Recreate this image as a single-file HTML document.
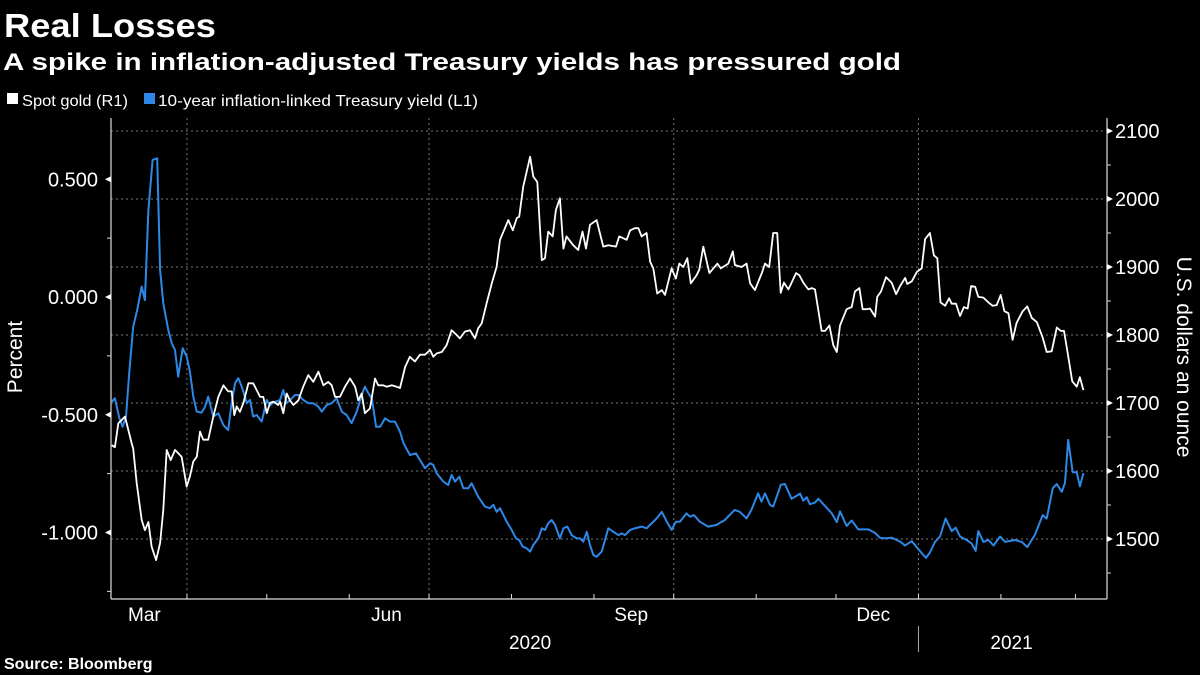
<!DOCTYPE html>
<html><head><meta charset="utf-8"><style>
html,body{margin:0;padding:0;background:#000;}
svg{display:block;font-family:"Liberation Sans",sans-serif;}
</style></head><body>
<svg id="chart" width="1200" height="675" viewBox="0 0 1200 675">
<rect width="1200" height="675" fill="#000"/>
<text x="4" y="37" fill="#fff" font-size="33" font-weight="bold" textLength="212" lengthAdjust="spacingAndGlyphs">Real Losses</text>
<text x="3" y="70" fill="#fff" font-size="24" font-weight="bold" textLength="898" lengthAdjust="spacingAndGlyphs">A spike in inflation-adjusted Treasury yields has pressured gold</text>
<g>
<g>
<rect x="7" y="93" width="11" height="11" fill="#fff"/>
<text x="22" y="106" fill="#fff" font-size="16" textLength="106" lengthAdjust="spacingAndGlyphs">Spot gold (R1)</text>
</g>
<g>
<rect x="144" y="93" width="11" height="11" fill="#2d88e6"/>
<text x="158" y="106" fill="#fff" font-size="16" textLength="320" lengthAdjust="spacingAndGlyphs">10-year inflation-linked Treasury yield (L1)</text>
</g>
</g>
<g id="grid"></g>
<g id="axes"></g>
<g id="series"></g>
<text transform="translate(22,357) rotate(-90)" text-anchor="middle" fill="#fff" font-size="21">Percent</text>
<text transform="translate(1177,357) rotate(90)" text-anchor="middle" fill="#fff" font-size="21">U.S. dollars an ounce</text>
<text x="4" y="669" fill="#fff" font-size="16" font-weight="bold">Source: Bloomberg</text>
</svg>
<script>
// days since 2020-03-01
const goldDays=[2.7,3.9,5.2,7.7,10.2,10.8,12.1,14,15.2,16.5,17.7,19.4,20.9,22.1,23.4,24.9,26.5,29,30.9,32.1,33.4,34.7,35.9,37.1,39,40.9,42.8,44.7,46.5,47.8,48.8,49.7,50.9,52.2,54.1,55.9,57.2,58.5,59.7,61,62.2,63.5,65.3,66,67.2,68.5,69.7,71,72.9,74.7,76.6,78.5,80.4,82.3,84.1,85.4,86.7,88.5,90.4,92.3,94.2,95.4,96.7,97.9,99.8,101.7,102.9,104.8,106.1,108,109.8,111.1,113,114.8,116.7,118.6,120.5,122.4,123.6,124.9,126.8,128.6,130.5,132.4,133.6,135.5,137.4,139.3,140.5,141.8,143.7,145.6,147.4,148.7,151.8,153.5,155,155.9,157.4,160,161.2,162.7,164.4,165.6,166.8,168.5,169.7,171.2,172.5,173.7,176.2,178.1,179.7,181,182.5,185,187.5,189.4,192.3,193.5,196.3,197.6,199.4,200.7,201.9,203.8,205.1,206.3,207.8,209.5,210.7,213.2,214.8,216.1,217.6,219.1,220.4,222.6,223.6,225.1,227.4,230.4,231.7,234.5,236.2,237,239.5,241.4,242.7,244.5,247.1,248.3,249.9,251.4,252.9,254.2,255.4,257.1,258.3,260,261.2,262.7,264.6,265.9,267.1,269.6,270.9,272.5,274,275.3,276.5,279,280.9,282.1,283.8,285,286.5,287.8,289.7,290.5,291.9,293.8,295.9,297.6,299.1,301,301.8,303.5,305.4,307.2,308.5,310.3,311.8,313.1,314.3,316,317.5,318.5,320.1,321.6,323.1,324.5,325.8,327.3,328.5,330.4,332.3,333.9,335.4,336.9,338.3,339.8,341.4,342.9,345.2,346.9,348.6,350.5,352.7,354.2,356.1,358,359.5,360.7,362.3,363.8,365.5,366.7,368];
const goldValues=[1638,1635,1670,1680,1641,1633,1582,1528,1513,1525,1489,1469,1494,1543,1631,1616,1631,1621,1577,1592,1614,1621,1658,1646,1646,1680,1709,1726,1717,1717,1682,1695,1687,1700,1729,1729,1719,1709,1709,1685,1700,1702,1697,1702,1685,1714,1704,1697,1704,1724,1741,1731,1746,1726,1731,1726,1709,1709,1724,1736,1724,1704,1714,1685,1692,1736,1726,1726,1724,1726,1724,1722,1753,1768,1761,1771,1771,1778,1768,1773,1775,1785,1807,1800,1795,1805,1807,1795,1810,1817,1847,1876,1900,1940,1969,1954,1972,1974,2018,2062,2033,2025,1910,1913,1952,1945,1984,2001,1927,1945,1932,1925,1952,1927,1962,1969,1930,1932,1930,1945,1940,1954,1957,1957,1945,1950,1908,1898,1861,1866,1859,1898,1883,1905,1900,1913,1876,1888,1896,1930,1891,1905,1898,1905,1923,1903,1900,1905,1876,1866,1891,1905,1900,1950,1950,1862,1877,1867,1877,1891,1888,1877,1867,1869,1867,1806,1806,1814,1785,1775,1814,1838,1841,1864,1869,1838,1838,1839,1827,1856,1864,1885,1877,1860,1872,1884,1875,1879,1893,1898,1941,1950,1917,1913,1848,1843,1854,1846,1846,1828,1841,1839,1872,1871,1856,1855,1848,1843,1844,1859,1835,1832,1793,1818,1835,1842,1825,1819,1796,1775,1776,1811,1806,1806,1769,1732,1724,1738,1719];
const yieldDays=[2.7,3.9,5.6,6.8,8.1,9.3,10.8,12.3,14,15.2,16.5,18.1,19.8,20.9,22.1,24,25.3,26.5,27.7,29.4,30.9,32.1,33.4,34.7,36.5,37.8,39,40.9,42.8,44.7,46.5,47.8,49.1,50.3,51.6,53.5,54.7,55.9,57.2,59.1,61,62.2,64.1,66,67.2,68.5,70.4,71.6,72.9,74.7,76.6,78.5,80.4,81.7,83.5,85.4,87.3,89.2,91,92.9,94.8,96.7,97.9,99.2,100.5,102.1,103.6,105.5,107.3,109.2,111.1,112.4,114.8,117.1,118.6,120.5,122.4,123.6,124.9,127.4,129.2,130.5,131.8,133.4,134.9,136.8,138,140.5,143,144.9,146.2,147.4,148.7,151.2,153.1,154.7,155.9,157.2,158.7,160,161.2,163.1,164.4,165.6,166.8,168.1,169.4,171.2,172.5,174,175.6,177.5,178.8,180,181.3,182.5,183.8,185,186.9,189.4,191.3,193.2,194.4,195.7,197.6,199.4,201.9,203.8,205.7,207.6,209.5,211.4,213.2,214.8,216.3,218.8,220.1,221.6,223.8,226.9,230,233.2,235,236.9,238.8,241.4,243.2,245.7,247,248.3,250.2,251.4,252.7,254.3,255.8,258.3,261.5,262.7,264,265.2,267.1,268.4,270.9,273.4,275.3,276.5,279,280.9,283.4,287.2,289.7,291.5,293.4,295.9,297.8,299.3,300.9,303.5,305.9,308.8,310.3,312.2,314.1,316.2,318.5,320,321.6,324.1,326,327.5,328.5,330.4,332.3,334.2,336.7,338.6,342.3,344.8,346.9,349.8,352.7,354.2,356.5,358,359.9,361.1,362.3,364,365.5,366.7,368];
const yieldValues=[-0.445,-0.430,-0.515,-0.551,-0.508,-0.324,-0.126,-0.055,0.044,-0.013,0.369,0.582,0.589,0.115,-0.027,-0.140,-0.197,-0.225,-0.338,-0.218,-0.253,-0.317,-0.423,-0.487,-0.491,-0.466,-0.423,-0.508,-0.494,-0.544,-0.565,-0.451,-0.366,-0.345,-0.381,-0.451,-0.437,-0.508,-0.501,-0.529,-0.437,-0.459,-0.445,-0.437,-0.395,-0.451,-0.430,-0.416,-0.416,-0.437,-0.451,-0.451,-0.466,-0.487,-0.459,-0.451,-0.430,-0.487,-0.501,-0.536,-0.487,-0.416,-0.381,-0.409,-0.430,-0.551,-0.551,-0.515,-0.529,-0.529,-0.572,-0.621,-0.671,-0.664,-0.692,-0.727,-0.706,-0.713,-0.749,-0.784,-0.798,-0.756,-0.784,-0.763,-0.812,-0.812,-0.791,-0.848,-0.890,-0.897,-0.883,-0.912,-0.897,-0.954,-0.989,-1.025,-1.032,-1.060,-1.067,-1.081,-1.053,-1.025,-0.982,-0.989,-0.961,-0.947,-0.968,-1.025,-0.982,-0.975,-1.011,-1.025,-1.025,-1.039,-0.997,-1.053,-1.096,-1.103,-1.081,-0.982,-0.997,-1.011,-1.004,-1.011,-0.989,-0.982,-0.975,-0.982,-0.961,-0.940,-0.912,-0.954,-0.989,-0.954,-0.954,-0.919,-0.933,-0.926,-0.954,-0.975,-0.968,-0.947,-0.926,-0.904,-0.912,-0.940,-0.904,-0.834,-0.869,-0.834,-0.883,-0.890,-0.848,-0.797,-0.794,-0.857,-0.835,-0.865,-0.850,-0.880,-0.873,-0.857,-0.888,-0.918,-0.956,-0.910,-0.972,-0.949,-0.987,-0.987,-1.002,-1.022,-1.025,-1.022,-1.032,-1.040,-1.055,-1.037,-1.070,-1.108,-1.085,-1.040,-1.017,-0.941,-0.994,-0.979,-1.017,-1.032,-1.047,-1.078,-0.994,-1.040,-1.032,-1.055,-1.017,-1.040,-1.032,-1.040,-1.062,-1.009,-0.926,-0.941,-0.812,-0.794,-0.827,-0.789,-0.607,-0.744,-0.744,-0.804,-0.748];
const leftTicks=[0.5,0,-0.5,-1];
const leftTickLabels=["0.500","0.000","-0.500","-1.000"];
const leftMinorTicks=[0.25,-0.25,-0.75,-1.25];
const rightTicks=[2100,2000,1900,1800,1700,1600,1500];
const rightMinorTicks=[2050,1950,1850,1750,1650,1550,1450];
const monthTickDays=[31,61,92,122,153,184,214,245,275,306,337,365];
const monthLabels=["Mar","Jun","Sep","Dec"];
const monthLabelDays=[15,106,198,289];
const gridDays=[31,122,214,306];
const yearLabels=["2020","2021"];
const yearLabelDays=[160,341];
const yearBoundaryDay=306;

const NS="http://www.w3.org/2000/svg";
const X0=104.5, XS=2.66;
function xScale(d){return X0+d*XS;}
function yLeft(v){return 297-v*235.5;}
function yRight(g){return 199-(g-2000)*0.68;}
const PL=111, PR=1107, PB=599, PT=118;
function mk(tag,attrs,parent){const e=document.createElementNS(NS,tag);for(const k in attrs)e.setAttribute(k,attrs[k]);parent.appendChild(e);return e;}
const grid=document.getElementById('grid'), axes=document.getElementById('axes'), series=document.getElementById('series');

rightTicks.forEach(t=>{
  const l=mk('line',{x1:PL,x2:PR,y1:yRight(t),y2:yRight(t),stroke:'#777','stroke-width':1,'stroke-dasharray':'2,3'},grid);
  
  
});
gridDays.forEach(d=>{
  const l=mk('line',{x1:xScale(d),x2:xScale(d),y1:PT,y2:PB,stroke:'#777','stroke-width':1,'stroke-dasharray':'2,3'},grid);
  
  
});
let a=mk('line',{x1:PL,x2:PL,y1:PT,y2:PB,stroke:'#ddd','stroke-width':1.2},axes);


a=mk('line',{x1:PR,x2:PR,y1:PT,y2:PB,stroke:'#ddd','stroke-width':1.2},axes);


a=mk('line',{x1:PL,x2:PR,y1:PB,y2:PB,stroke:'#ddd','stroke-width':1.2},axes);


leftTicks.forEach((t,i)=>{
  const y=yLeft(t);
  const p=mk('path',{d:`M${PL-6},${y} L${PL},${y-3} L${PL},${y+3}Z`,fill:'#fff'},axes);
  
  
  const tx=mk('text',{x:98,y:y+7,'text-anchor':'end',fill:'#fff','font-size':20},axes);
  tx.textContent=leftTickLabels[i];
  
  
});
leftMinorTicks.forEach(t=>{
  const l=mk('line',{x1:PL-4,x2:PL,y1:yLeft(t),y2:yLeft(t),stroke:'#ddd'},axes);
  
  
});
rightTicks.forEach(t=>{
  const y=yRight(t);
  const p=mk('path',{d:`M${PR+6},${y} L${PR},${y-3} L${PR},${y+3}Z`,fill:'#fff'},axes);
  
  
  const tx=mk('text',{x:1115,y:y+7,fill:'#fff','font-size':20},axes);
  tx.textContent=String(t);
  
  
});
rightMinorTicks.forEach(t=>{
  const l=mk('line',{x1:PR,x2:PR+4,y1:yRight(t),y2:yRight(t),stroke:'#ddd'},axes);
  
  
});
monthTickDays.forEach(d=>{
  const l=mk('line',{x1:xScale(d),x2:xScale(d),y1:PB,y2:PB-5,stroke:'#ddd'},axes);
  
  
});
monthLabels.forEach((m,i)=>{
  const tx=mk('text',{x:xScale(monthLabelDays[i]),y:621,'text-anchor':'middle',fill:'#fff','font-size':19},axes);
  tx.textContent=m;
  
  
});
yearLabels.forEach((m,i)=>{
  const tx=mk('text',{x:xScale(yearLabelDays[i]),y:649,'text-anchor':'middle',fill:'#fff','font-size':19},axes);
  tx.textContent=m;
  
  
});
a=mk('line',{x1:xScale(yearBoundaryDay),x2:xScale(yearBoundaryDay),y1:626,y2:652,stroke:'#aaa'},axes);



const yp=mk('polyline',{points:yieldDays.map((d,i)=>xScale(d).toFixed(1)+','+yLeft(yieldValues[i]).toFixed(1)).join(' '),fill:'none',stroke:'#2d88e6','stroke-width':2,'stroke-linejoin':'round'},series);


const gp=mk('polyline',{points:goldDays.map((d,i)=>xScale(d).toFixed(1)+','+yRight(goldValues[i]).toFixed(1)).join(' '),fill:'none',stroke:'#fff','stroke-width':1.8,'stroke-linejoin':'round'},series);


</script>
</body></html>
